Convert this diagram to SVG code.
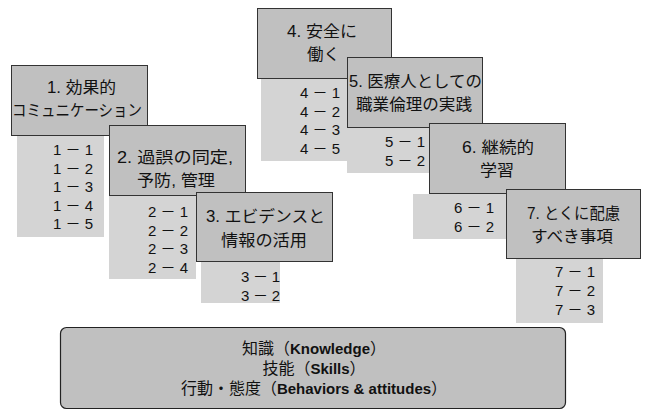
<svg xmlns="http://www.w3.org/2000/svg" width="645" height="410" viewBox="0 0 645 410">
<style>
text{font-family:"Liberation Sans","Noto Sans CJK JP",sans-serif;fill:#111}
.h{fill:#c0c0c0;stroke:#333;stroke-width:1}
.p{fill:#d4d4d4;stroke:none}
.t{font-size:16px}
.i{font-size:15px}
.b{font-size:16px;text-anchor:middle}
.bb{font-weight:bold;font-size:15px}
</style>
<rect width="645" height="410" fill="#fff"/>
<g id="connectors"/>
<g id="node1">
<rect class="p" x="17" y="136" width="87" height="101"/>
<rect class="h" x="11.5" y="65.5" width="136" height="70"/>
<text class="t" x="47" y="93" textLength="69" lengthAdjust="spacingAndGlyphs">1. 効果的</text>
<text class="t" x="12" y="116" textLength="130" lengthAdjust="spacingAndGlyphs">コミュニケーション</text>
<text class="i" x="53" y="155" textLength="40">1－1</text>
<text class="i" x="53" y="173.5" textLength="40">1－2</text>
<text class="i" x="53" y="192" textLength="40">1－3</text>
<text class="i" x="53" y="210.5" textLength="40">1－4</text>
<text class="i" x="53" y="229" textLength="40">1－5</text>
</g>
<g id="node2">
<rect class="p" x="109" y="196" width="87" height="83"/>
<rect class="h" x="109.5" y="125.5" width="136" height="70"/>
<text class="t" x="117" y="163" textLength="116" lengthAdjust="spacingAndGlyphs">2. 過誤の同定,</text>
<text class="t" x="137" y="186" textLength="78" lengthAdjust="spacingAndGlyphs">予防, 管理</text>
<text class="i" x="148" y="217" textLength="40">2－1</text>
<text class="i" x="148" y="235.5" textLength="40">2－2</text>
<text class="i" x="148" y="254" textLength="40">2－3</text>
<text class="i" x="148" y="272.5" textLength="40">2－4</text>
</g>
<g id="node3">
<rect class="p" x="201" y="262" width="79" height="41"/>
<rect class="h" x="196.5" y="192.5" width="136" height="69"/>
<text class="t" x="206" y="222" textLength="119" lengthAdjust="spacingAndGlyphs">3. エビデンスと</text>
<text class="t" x="221" y="246" textLength="86" lengthAdjust="spacingAndGlyphs">情報の活用</text>
<text class="i" x="241" y="282" textLength="39">3－1</text>
<text class="i" x="241" y="301" textLength="39">3－2</text>
</g>
<g id="node4">
<rect class="p" x="261" y="78" width="90" height="83"/>
<rect class="h" x="257.5" y="8.5" width="134" height="70"/>
<text class="t" x="287" y="37" textLength="70" lengthAdjust="spacingAndGlyphs">4. 安全に</text>
<text class="t" x="307" y="60" textLength="33" lengthAdjust="spacingAndGlyphs">働く</text>
<text class="i" x="300" y="98" textLength="40">4－1</text>
<text class="i" x="300" y="116.5" textLength="40">4－2</text>
<text class="i" x="300" y="135" textLength="40">4－3</text>
<text class="i" x="300" y="154" textLength="40">4－5</text>
</g>
<g id="node5">
<rect class="p" x="347" y="128" width="86" height="45"/>
<rect class="h" x="347.5" y="57.5" width="135" height="70"/>
<text class="t" x="349" y="87" textLength="133" lengthAdjust="spacingAndGlyphs">5. 医療人としての</text>
<text class="t" x="356" y="110" textLength="116" lengthAdjust="spacingAndGlyphs">職業倫理の実践</text>
<text class="i" x="385" y="147" textLength="40">5－1</text>
<text class="i" x="385" y="166" textLength="40">5－2</text>
</g>
<g id="node6">
<rect class="p" x="413" y="194" width="96" height="45"/>
<rect class="h" x="429.5" y="123.5" width="136" height="70"/>
<text class="t" x="462" y="153" textLength="72" lengthAdjust="spacingAndGlyphs">6. 継続的</text>
<text class="t" x="480" y="176" textLength="34" lengthAdjust="spacingAndGlyphs">学習</text>
<text class="i" x="454" y="213" textLength="40">6－1</text>
<text class="i" x="454" y="232" textLength="40">6－2</text>
</g>
<g id="node7">
<rect class="p" x="516" y="259" width="87" height="64"/>
<rect class="h" x="506.5" y="189.5" width="134" height="69"/>
<text class="t" x="527" y="219" textLength="93" lengthAdjust="spacingAndGlyphs">7. とくに配慮</text>
<text class="t" x="531" y="242" textLength="82" lengthAdjust="spacingAndGlyphs">すべき事項</text>
<text class="i" x="555" y="277" textLength="40">7－1</text>
<text class="i" x="555" y="296" textLength="40">7－2</text>
<text class="i" x="555" y="315" textLength="40">7－3</text>
</g>
<g id="base">
<rect x="60.5" y="327.5" width="505" height="81" rx="6" fill="#c0c0c0" stroke="#222" stroke-width="1.2"/>
<text class="b" x="314" y="354">知識（<tspan class="bb">Knowledge</tspan>）</text>
<text class="b" x="314" y="374">技能（<tspan class="bb">Skills</tspan>）</text>
<text class="b" x="314" y="394">行動・態度（<tspan class="bb">Behaviors &amp; attitudes</tspan>）</text>
</g>
</svg>
